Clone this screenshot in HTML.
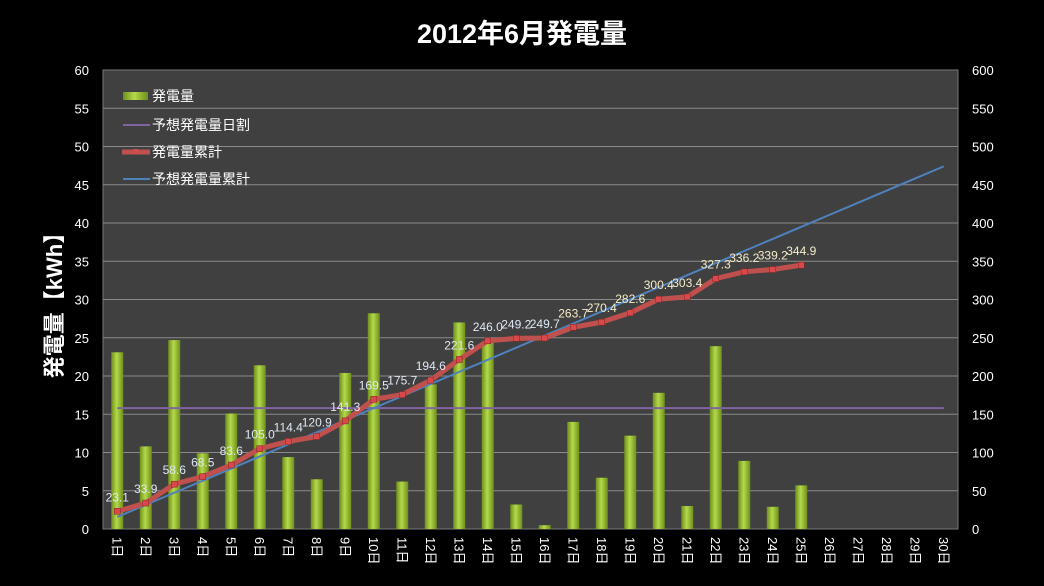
<!DOCTYPE html>
<html><head><meta charset="utf-8">
<style>
body{margin:0;background:#000;width:1044px;height:581px;overflow:hidden;font-family:"Liberation Sans","Noto Sans CJK JP",sans-serif;}
svg text{font-family:"Liberation Sans","Noto Sans CJK JP",sans-serif;}
</style></head><body>
<svg id="chart" width="1044" height="581" xmlns="http://www.w3.org/2000/svg">
<defs>
<linearGradient id="barg" x1="0" x2="1" y1="0" y2="0">
<stop offset="0" stop-color="#6e8f1c"/><stop offset="0.45" stop-color="#b5d94a"/><stop offset="1" stop-color="#6e8f1c"/>
</linearGradient>
</defs>
<rect x="0" y="0" width="1044" height="581" fill="#000"/>
<text x="522" y="43" text-anchor="middle" fill="#fff" font-size="27" font-weight="bold">2012年6月発電量</text>
<rect x="103" y="70" width="855" height="459" fill="#404040" stroke="#777" stroke-width="1"/>
<g id="grid"></g>
<g id="bars"></g>
<g id="lines"></g>
<g id="axes"></g>
<text transform="translate(62,300) rotate(-90)" text-anchor="middle" fill="#fff" font-size="22" font-weight="bold">発電量【kWh】</text>
<g>
<rect x="123" y="92" width="25" height="8" fill="url(#barg)"/>
<text x="152" y="101" fill="#fff" font-size="14">発電量</text>
<line x1="123" y1="125" x2="150" y2="125" stroke="#8064a2" stroke-width="2"/>
<text x="152" y="130" fill="#fff" font-size="14">予想発電量日割</text>
<line x1="122" y1="152" x2="150" y2="152" stroke="#c0504d" stroke-width="5"/>
<rect x="133" y="149" width="5" height="5" fill="#d9484a"/>
<text x="152" y="157" fill="#fff" font-size="14">発電量累計</text>
<line x1="123" y1="179" x2="150" y2="179" stroke="#4f81bd" stroke-width="2"/>
<text x="152" y="184" fill="#fff" font-size="14">予想発電量累計</text>
</g>
</svg>
<script>
const days = ["1日","2日","3日","4日","5日","6日","7日","8日","9日","10日","11日","12日","13日","14日","15日","16日","17日","18日","19日","20日","21日","22日","23日","24日","25日","26日","27日","28日","29日","30日"];
const daily = [23.1,10.8,24.7,9.9,15.1,21.4,9.4,6.5,20.4,28.2,6.2,18.9,27.0,24.4,3.2,0.5,14.0,6.7,12.2,17.8,3.0,23.9,8.9,2.9,5.7];
const forecastDaily = [15.8,15.8,15.8,15.8,15.8,15.8,15.8,15.8,15.8,15.8,15.8,15.8,15.8,15.8,15.8,15.8,15.8,15.8,15.8,15.8,15.8,15.8,15.8,15.8,15.8,15.8,15.8,15.8,15.8,15.8];
const cumulative = [23.1,33.9,58.6,68.5,83.6,105.0,114.4,120.9,141.3,169.5,175.7,194.6,221.6,246.0,249.2,249.7,263.7,270.4,282.6,300.4,303.4,327.3,336.2,339.2,344.9];
const forecastCumulative = [15.8,31.6,47.4,63.2,79.0,94.8,110.6,126.4,142.2,158.0,173.8,189.6,205.4,221.2,237.0,252.8,268.6,284.4,300.2,316.0,331.8,347.6,363.4,379.2,395.0,410.8,426.6,442.4,458.2,474.0];
const leftTicks = [0,5,10,15,20,25,30,35,40,45,50,55,60];
const rightTicks = [0,50,100,150,200,250,300,350,400,450,500,550,600];

const NS="http://www.w3.org/2000/svg";
const X0=103, X1=958, Y0=529, Y1=70;
const band=(X1-X0)/days.length;
const xc=i=>X0+band*(i+0.5);
const yL=v=>Y0-(v/60)*(Y0-Y1);
const yR=v=>Y0-(v/600)*(Y0-Y1);
function mk(tag,attrs,parent){const e=document.createElementNS(NS,tag);for(const k in attrs)e.setAttribute(k,attrs[k]);parent.appendChild(e);return e;}
const grid=document.getElementById('grid'),bars=document.getElementById('bars'),lines=document.getElementById('lines'),axes=document.getElementById('axes');

leftTicks.forEach(t=>{
  if(t>0&&t<60){const g=mk('line',{x1:X0,x2:X1,y1:yL(t),y2:yL(t),stroke:'#8a8a8a','stroke-width':1},grid);
  
  }
  const tx=mk('text',{x:89,y:yL(t)+5,'text-anchor':'end',fill:'#fff','font-size':13},axes);
  tx.textContent=t;
  
  
});
rightTicks.forEach(t=>{
  const tx=mk('text',{x:972,y:yR(t)+5,'text-anchor':'start',fill:'#fff','font-size':13},axes);
  tx.textContent=t;
  
  
});
days.forEach((d,i)=>{
  const tx=mk('text',{transform:`translate(${xc(i)-5},537) rotate(90)`,fill:'#fff','font-size':13},axes);
  tx.textContent=d;
  
  
});
daily.forEach((v,i)=>{
  const r=mk('rect',{x:xc(i)-6,y:yL(v),width:12,height:Y0-yL(v),fill:'url(#barg)'},bars);
  
  
});
function poly(vals,yf,stroke,w,name){
  const p=mk('polyline',{points:vals.map((v,i)=>xc(i)+','+yf(v)).join(' '),fill:'none',stroke:stroke,'stroke-width':w,'stroke-linejoin':'round'},lines);
  
  
}
poly(forecastDaily,yL,'#8064a2',2,'forecast-daily-line');
poly(forecastCumulative,yR,'#4f81bd',2,'forecast-cumulative-line');
poly(cumulative,yR,'#c0504d',5,'cumulative-line');
cumulative.forEach((v,i)=>{
  const m=mk('rect',{x:xc(i)-3,y:yR(v)-3,width:6,height:6,fill:'#d9484a',stroke:'#8a2020','stroke-width':0.5},lines);
  
  
  const t=mk('text',{x:xc(i),y:yR(v)-10,'text-anchor':'middle',fill:i>=16?'#f5ecc8':'#dde8f5','font-size':12},lines);
  t.textContent=v.toFixed(1);
  
  
});
</script>
</body></html>
